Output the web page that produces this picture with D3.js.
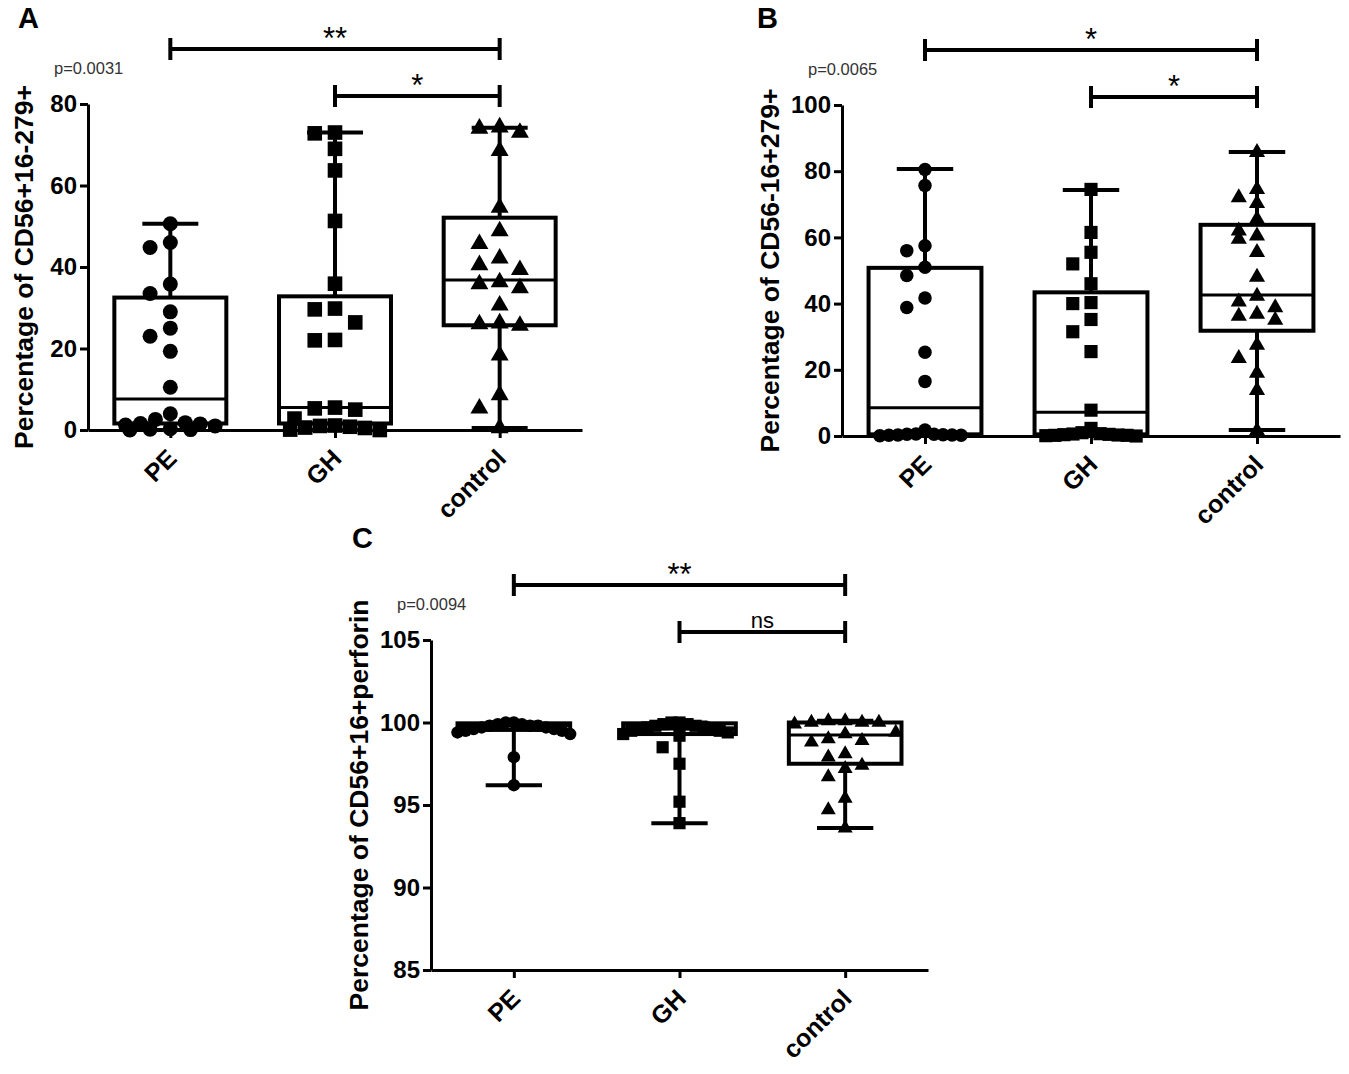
<!DOCTYPE html>
<html>
<head>
<meta charset="utf-8">
<script src="https://cdn.jsdelivr.net/npm/d3@7"></script>
<style>
  body { margin: 0; background: #fff; }
  svg { display: block; font-family: "Liberation Sans", Arial, sans-serif; }
</style>
</head>
<body>
<svg id="chart" width="1349" height="1074"></svg>
<script>
// Categories shared by all three panels
const categories = ["PE", "GH", "control"];

// Panel A: Percentage of CD56+16-279+
const aPE = [50.6, 46.0, 44.8, 35.8, 33.5, 29.0, 25.0, 23.0, 19.3, 10.5, 4.0, 2.6, 1.5, 1.8, 1.2, 1.6, 1.0, 0.3, 0.0, 0.2, 0.1];
const aGH = [73.0, 72.8, 69.0, 63.7, 51.3, 35.9, 29.8, 29.6, 26.4, 22.1, 22.0, 5.5, 5.0, 5.3, 2.8, 1.0, 0.5, 1.1, 0.8, 0.1, 0.6, 0.0];
const aControl = [74.3, 74.0, 73.0, 68.5, 54.6, 48.8, 45.7, 42.1, 40.5, 39.3, 36.3, 35.8, 34.8, 30.6, 26.0, 25.6, 26.2, 18.3, 8.6, 5.3, 0.5];
// box stats per category: [min, q1, median, q3, max]
const aBox = [[0, 1.6, 7.6, 32.5, 50.6], [0, 1.6, 5.5, 32.8, 73.0], [0.5, 25.7, 36.8, 52.1, 74.2]];
const aTicks = [0, 20, 40, 60, 80];
const aSig = ["**", "*"];

// Panel B: Percentage of CD56-16+279+
const bPE = [80.5, 75.7, 57.5, 56.0, 51.0, 48.5, 41.7, 38.8, 25.3, 16.5, 1.8, 0.5, 0.3, 0.4, 0.2, 0.6, 0.1, 0.3, 0.5, 0.2];
const bGH = [74.5, 61.5, 55.5, 52.0, 46.0, 40.3, 40.0, 35.2, 31.5, 25.5, 7.8, 2.3, 1.0, 0.5, 0.7, 0.2, 0.3, 0.0, 0.4, 0.1, 0.6, 0.2];
const bControl = [85.7, 74.5, 72.0, 70.3, 65.5, 62.0, 60.5, 59.5, 55.5, 48.0, 42.3, 40.5, 38.8, 36.8, 36.2, 35.0, 27.5, 23.5, 19.0, 13.8, 1.6];
const bBox = [[0, 0.5, 8.5, 50.8, 80.7], [0, 0.5, 7.2, 43.4, 74.3], [1.8, 31.8, 42.6, 63.8, 85.8]];
const bTicks = [0, 20, 40, 60, 80, 100];
const bSig = ["*", "*"];

// Panel C: Percentage of CD56+16+perforin
const cPE = [100.0, 100.0, 99.9, 99.9, 99.8, 99.8, 99.8, 99.7, 99.7, 99.6, 99.6, 99.5, 99.5, 99.4, 99.3, 97.9, 96.2];
const cGH = [100.0, 100.0, 99.9, 99.9, 99.8, 99.8, 99.7, 99.7, 99.6, 99.6, 99.5, 99.5, 99.4, 99.3, 99.2, 98.5, 97.5, 95.2, 93.9];
const cControl = [100.1, 100.1, 100.0, 100.0, 100.0, 99.9, 99.4, 99.3, 99.0, 98.9, 98.8, 98.1, 97.9, 97.4, 97.2, 96.7, 95.4, 94.7, 93.6];
const cBox = [[96.2, 99.55, 99.8, 99.95, 100.0], [93.9, 99.3, 99.6, 99.95, 100.0], [93.6, 97.5, 99.25, 100.0, 100.1]];
const cTicks = [85, 90, 95, 100, 105];
const cSig = ["**", "ns"];

const symbols = [d3.symbolCircle, d3.symbolSquare, d3.symbolTriangle];

// layout of the three panels
const panels = [
  {letter: "A", lx: 18, ly: 28, x0: 88, x1: 582, top: 104, bottom: 430, domain: [0, 80], ticks: aTicks,
   series: [aPE, aGH, aControl], box: aBox, sig: aSig, p: "p=0.0031", title: "Percentage of CD56+16-279+",
   titleX: 33, msize: 15, spread: 0.4},
  {letter: "B", lx: 757, ly: 28, x0: 842, x1: 1340, top: 105, bottom: 436, domain: [0, 100], ticks: bTicks,
   series: [bPE, bGH, bControl], box: bBox, sig: bSig, p: "p=0.0065", title: "Percentage of CD56-16+279+",
   titleX: 779, msize: 13.5, spread: 0.4},
  {letter: "C", lx: 352, ly: 548, x0: 431, x1: 928, top: 640, bottom: 970, domain: [85, 105], ticks: cTicks,
   series: [cPE, cGH, cControl], box: cBox, sig: cSig, p: "p=0.0094", title: "Percentage of CD56+16+perforin",
   titleX: 368, msize: 12.5, spread: 0.5}
];

const svg = d3.select("#chart");

// Prism-like scatter: points of similar height share a row and sit side by side,
// rows that would be too wide get squeezed into the column
function swarm(values, y, size, maxHalf) {
  const pts = values.map(v => ({v: v, py: y(v)})).sort((a, b) => a.py - b.py);
  const rows = [];
  pts.forEach(p => {
    const row = rows[rows.length - 1];
    if (row && p.py - row[0].py < size) row.push(p);
    else rows.push([p]);
  });
  rows.forEach(row => {
    const maxSlot = Math.ceil((row.length - 1) / 2);
    const spacing = maxSlot ? Math.min(size * 1.35, maxHalf / maxSlot) : 0;
    row.forEach((p, i) => {
      const slot = i === 0 ? 0 : (i % 2 ? -1 : 1) * Math.ceil(i / 2);
      p.dx = slot * spacing;
    });
  });
  return pts;
}

function drawPanel(cfg) {
  const g = svg.append("g");

  const x = d3.scalePoint().domain(categories).range([cfg.x0, cfg.x1]).padding(0.5);
  const y = d3.scaleLinear().domain(cfg.domain).range([cfg.bottom, cfg.top]);
  const band = x.step();
  const boxW = band * 0.68;
  const capW = band * 0.34;

  // panel letter
  g.append("text")
    .attr("x", cfg.lx).attr("y", cfg.ly)
    .attr("font-size", 29).attr("font-weight", "bold")
    .text(cfg.letter);

  // y axis
  const yAxis = g.append("g")
    .attr("transform", `translate(${cfg.x0},0)`)
    .call(d3.axisLeft(y).tickValues(cfg.ticks).tickSize(8).tickSizeOuter(0).tickPadding(3));
  yAxis.select(".domain").attr("stroke-width", 3);
  yAxis.selectAll(".tick line").attr("stroke-width", 3);
  yAxis.selectAll(".tick text")
    .attr("font-size", 24).attr("font-weight", "bold")
    .attr("font-family", "Liberation Sans, Arial, sans-serif").attr("fill", "#000");

  // x axis
  const xAxis = g.append("g")
    .attr("transform", `translate(0,${cfg.bottom})`)
    .call(d3.axisBottom(x).tickSize(8).tickSizeOuter(0).tickFormat(""));
  xAxis.select(".domain").attr("stroke-width", 3);
  xAxis.selectAll(".tick line").attr("stroke-width", 3);

  // rotated category labels
  g.selectAll(".xlab")
    .data(categories)
    .join("text")
    .attr("class", "xlab")
    .attr("transform", d => `translate(${x(d) + 8},${cfg.bottom + 30}) rotate(-45)`)
    .attr("text-anchor", "end")
    .attr("font-size", 25).attr("font-weight", "bold")
    .text(d => d);

  // y axis title
  g.append("text")
    .attr("transform", `translate(${cfg.titleX},${(cfg.top + cfg.bottom) / 2}) rotate(-90)`)
    .attr("text-anchor", "middle")
    .attr("font-size", 26.5).attr("font-weight", "bold")
    .text(cfg.title);

  // p value
  g.append("text")
    .attr("x", cfg.x0 - 34).attr("y", cfg.top - 30)
    .attr("font-size", 16.5).attr("fill", "#333")
    .text(cfg.p);

  // significance brackets: PE-control and GH-control
  const pairs = [[categories[0], categories[2]], [categories[1], categories[2]]];
  const bracketY = [cfg.top - 55, cfg.top - 8];
  pairs.forEach((pr, i) => {
    const by = bracketY[i];
    const bg = g.append("g").attr("stroke", "#000").attr("stroke-width", 4);
    bg.append("line").attr("x1", x(pr[0])).attr("x2", x(pr[1])).attr("y1", by).attr("y2", by);
    bg.append("line").attr("x1", x(pr[0])).attr("x2", x(pr[0])).attr("y1", by - 11).attr("y2", by + 11);
    bg.append("line").attr("x1", x(pr[1])).attr("x2", x(pr[1])).attr("y1", by - 11).attr("y2", by + 11);
    const isNs = cfg.sig[i] === "ns";
    g.append("text")
      .attr("x", (x(pr[0]) + x(pr[1])) / 2)
      .attr("y", isNs ? by - 4 : by)
      .attr("text-anchor", "middle")
      .attr("font-size", isNs ? 22 : 31)
      .text(cfg.sig[i]);
  });

  // boxes and whiskers
  categories.forEach((c, i) => {
    const [mn, q1, md, q3, mx] = cfg.box[i];
    const cx = x(c);
    const bg = g.append("g").attr("stroke", "#000").attr("fill", "none");
    bg.append("line").attr("x1", cx).attr("x2", cx).attr("y1", y(q3)).attr("y2", y(mx)).attr("stroke-width", 4);
    bg.append("line").attr("x1", cx).attr("x2", cx).attr("y1", y(q1)).attr("y2", y(mn)).attr("stroke-width", 4);
    bg.append("line").attr("x1", cx - capW / 2).attr("x2", cx + capW / 2).attr("y1", y(mx)).attr("y2", y(mx)).attr("stroke-width", 4);
    bg.append("line").attr("x1", cx - capW / 2).attr("x2", cx + capW / 2).attr("y1", y(mn)).attr("y2", y(mn)).attr("stroke-width", 4);
    bg.append("rect")
      .attr("x", cx - boxW / 2).attr("width", boxW)
      .attr("y", y(q3)).attr("height", y(q1) - y(q3))
      .attr("stroke-width", 4);
    bg.append("line").attr("x1", cx - boxW / 2).attr("x2", cx + boxW / 2).attr("y1", y(md)).attr("y2", y(md)).attr("stroke-width", 3);
  });

  // individual points
  categories.forEach((c, i) => {
    const s = cfg.msize;
    const pts = swarm(cfg.series[i], y, s, boxW * cfg.spread);
    const area = i === 0 ? Math.PI * s * s / 4 : (i === 1 ? s * s * 0.95 : s * s * 0.62);
    g.append("g").selectAll("path")
      .data(pts)
      .join("path")
      .attr("transform", d => `translate(${x(c) + d.dx},${d.py})`)
      .attr("d", d3.symbol().type(symbols[i]).size(area))
      .attr("fill", "#000");
  });
}

panels.forEach(drawPanel);
</script>
</body>
</html>
